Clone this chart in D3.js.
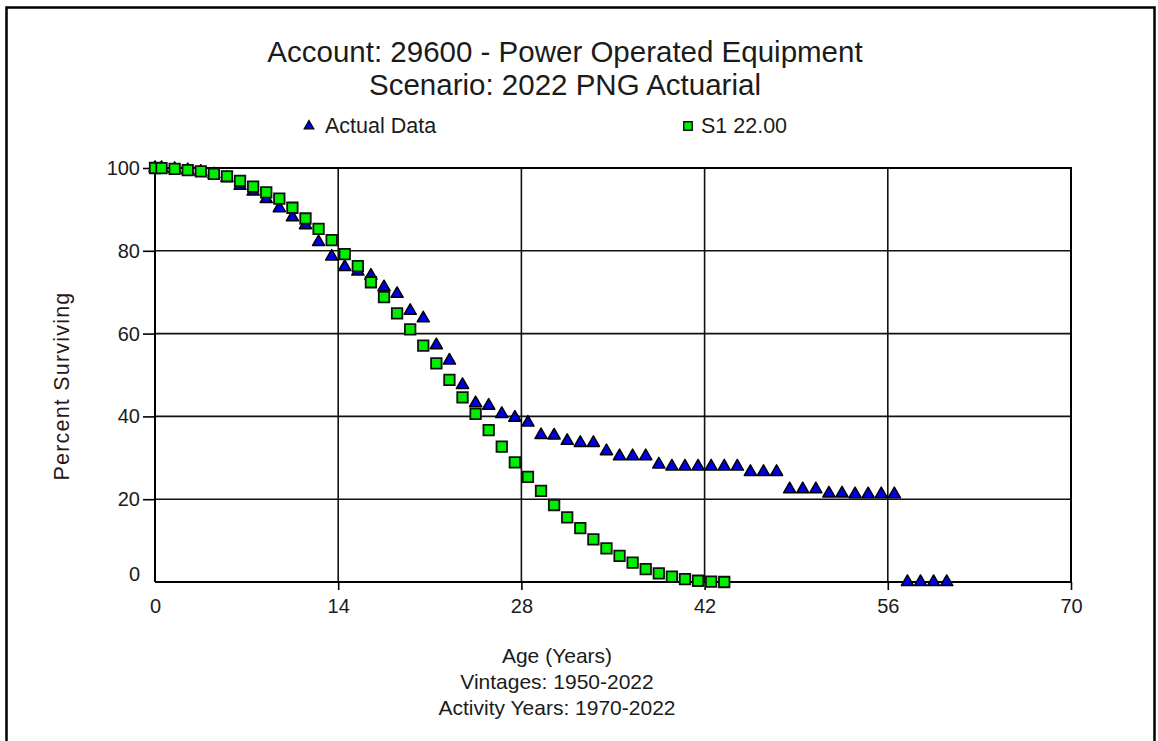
<!DOCTYPE html>
<html>
<head>
<meta charset="utf-8">
<script src="https://cdn.jsdelivr.net/npm/d3@7"></script>
<style>
  html, body { margin: 0; padding: 0; background: #fff; }
  svg { display: block; }
  svg text { font-family: "Liberation Sans", Arial, sans-serif; }
</style>
</head>
<body>
<svg id="chart" width="1158" height="741"></svg>
<script>
// Survivor curve: observed life table vs. fitted Iowa S1 curve (22-year life)
const actualAges = [0, 0.5, 1.5, 2.5, 3.5, 4.5, 5.5, 6.5, 7.5, 8.5, 9.5,
  10.5, 11.5, 12.5, 13.5, 14.5, 15.5, 16.5, 17.5, 18.5, 19.5,
  20.5, 21.5, 22.5, 23.5, 24.5, 25.5, 26.5, 27.5, 28.5, 29.5,
  30.5, 31.5, 32.5, 33.5, 34.5, 35.5, 36.5, 37.5, 38.5, 39.5,
  40.5, 41.5, 42.5, 43.5, 44.5, 45.5, 46.5, 47.5, 48.5, 49.5,
  50.5, 51.5, 52.5, 53.5, 54.5, 55.5, 56.5, 57.5, 58.5, 59.5, 60.5];
const actualPct = [100, 100, 99.8, 99.5, 99.1, 98.5, 97.6, 95.7, 94.3, 92.5, 90.3,
  88.1, 86.2, 82.1, 78.6, 76.1, 75.0, 74.0, 71.2, 69.6, 65.5,
  63.7, 57.2, 53.5, 47.6, 43.2, 42.6, 40.6, 39.7, 38.5, 35.5,
  35.4, 34.1, 33.6, 33.6, 31.6, 30.4, 30.4, 30.4, 28.4, 27.9,
  27.9, 27.9, 27.9, 27.9, 27.9, 26.6, 26.6, 26.6, 22.4, 22.4,
  22.4, 21.4, 21.4, 21.2, 21.2, 21.2, 21.2, 0, 0, 0, 0];

const curveAges = [0, 0.5, 1.5, 2.5, 3.5, 4.5, 5.5, 6.5, 7.5, 8.5, 9.5,
  10.5, 11.5, 12.5, 13.5, 14.5, 15.5, 16.5, 17.5, 18.5, 19.5,
  20.5, 21.5, 22.5, 23.5, 24.5, 25.5, 26.5, 27.5, 28.5, 29.5,
  30.5, 31.5, 32.5, 33.5, 34.5, 35.5, 36.5, 37.5, 38.5, 39.5,
  40.5, 41.5, 42.5, 43.5];
const curvePct = [100, 99.95, 99.8, 99.5, 99.2, 98.6, 98.0, 96.9, 95.5, 94.1, 92.6,
  90.4, 87.8, 85.3, 82.6, 79.2, 76.3, 72.4, 68.8, 64.9, 61.0,
  57.1, 52.8, 48.8, 44.6, 40.6, 36.7, 32.7, 28.9, 25.4, 22.0,
  18.6, 15.6, 13.0, 10.3, 8.1, 6.3, 4.7, 3.1, 2.1, 1.3,
  0.7, 0.3, 0.1, 0.0];

const xTicks = [0, 14, 28, 42, 56, 70];
const yTicks = [0, 20, 40, 60, 80, 100];

const titleLines = ["Account: 29600 - Power Operated Equipment", "Scenario: 2022 PNG Actuarial"];
const seriesNames = ["Actual Data", "S1 22.00"];
const xTitleLines = ["Age (Years)", "Vintages: 1950-2022", "Activity Years: 1970-2022"];
const yTitle = "Percent Surviving";

const FONT = "'Liberation Sans', Arial, sans-serif";
const svg = d3.select("#chart");
const ink = "#1b1b1b";
const triFill = "#0000e8";
const sqFill = "#00ee00";

const plot = { left: 155, right: 1071, top: 168, bottom: 582 };
const x = d3.scaleLinear().domain([0, 70]).range([plot.left, plot.right]);
const y = d3.scaleLinear().domain([0, 100]).range([plot.bottom, plot.top]);

// outer frame
svg.append("rect")
  .attr("x", 6.5).attr("y", 7.5).attr("width", 1148).attr("height", 760)
  .attr("fill", "none").attr("stroke", "#000").attr("stroke-width", 2.5);

// titles
svg.append("g").selectAll("text").data(titleLines).join("text")
  .attr("x", 565).attr("y", (d, i) => 62 + i * 33)
  .attr("text-anchor", "middle").attr("font-size", 29.5).attr("fill", ink)
  .text(d => d);

// grid lines
const grid = svg.append("g").attr("stroke", "#111").attr("stroke-width", 1.6);
grid.selectAll("line.h").data(yTicks.filter(v => v > 0)).join("line")
  .attr("x1", x(0)).attr("x2", x(70))
  .attr("y1", d => y(d)).attr("y2", d => y(d));
grid.selectAll("line.v").data(xTicks.filter(v => v > 0)).join("line")
  .attr("y1", y(0)).attr("y2", y(100))
  .attr("x1", d => x(d)).attr("x2", d => x(d));

// y axis
const yAxis = d3.axisLeft(y).tickValues(yTicks.filter(v => v > 0))
  .tickSize(12).tickPadding(3).tickFormat(d3.format("d"));
const gy = svg.append("g").attr("transform", `translate(${plot.left},0)`).call(yAxis)
  .attr("font-family", FONT);
gy.select(".domain").attr("stroke", "#000").attr("stroke-width", 2)
  .attr("d", `M0,${plot.top}V${plot.bottom}`);
gy.selectAll(".tick line").attr("stroke", "#000").attr("stroke-width", 1.6);
gy.selectAll(".tick text").attr("font-size", 20).attr("fill", ink);
// zero label sits apart from the tick set
svg.append("text").attr("x", plot.left - 15).attr("y", y(0) - 1)
  .attr("text-anchor", "end").attr("font-size", 20).attr("fill", ink).text(d3.format("d")(yTicks[0]));

// x axis
const xAxis = d3.axisBottom(x).tickValues(xTicks).tickSize(8).tickPadding(9)
  .tickFormat(d3.format("d"));
const gx = svg.append("g").attr("transform", `translate(0,${plot.bottom})`).call(xAxis)
  .attr("font-family", FONT);
gx.select(".domain").attr("stroke", "#000").attr("stroke-width", 2)
  .attr("d", `M${plot.left},0H${plot.right}`);
gx.selectAll(".tick line").attr("stroke", "#000").attr("stroke-width", 1.6)
  .attr("y2", d => d === 0 ? 0 : 8);
gx.selectAll(".tick text").attr("font-size", 20).attr("fill", ink);

// top and right frame of the plot
svg.append("path")
  .attr("d", `M${plot.left},${plot.top}H${plot.right}V${plot.bottom}`)
  .attr("fill", "none").attr("stroke", "#000").attr("stroke-width", 2);

// axis titles
svg.append("text")
  .attr("transform", `translate(69,386) rotate(-90)`)
  .attr("text-anchor", "middle").attr("font-size", 21.5)
  .attr("letter-spacing", 1.2).attr("fill", "#2a1616").text(yTitle);

svg.append("g").selectAll("text").data(xTitleLines).join("text")
  .attr("x", 557).attr("y", (d, i) => 663 + i * 26)
  .attr("text-anchor", "middle").attr("font-size", 21).attr("fill", ink)
  .text(d => d);

// markers
const tri = d3.symbol().type(d3.symbolTriangle).size(64);
const sq = d3.symbol().type(d3.symbolSquare).size(110);

const actual = actualAges.map((a, i) => ({ age: a, pct: actualPct[i] }));
const curve = curveAges.map((a, i) => ({ age: a, pct: curvePct[i] }));

svg.append("g").selectAll("path").data(actual).join("path")
  .attr("d", tri)
  .attr("transform", d => `translate(${x(d.age)},${y(d.pct)})`)
  .attr("fill", triFill).attr("stroke", "#000").attr("stroke-width", 1.5)
  .attr("stroke-linejoin", "round");

svg.append("g").selectAll("path").data(curve).join("path")
  .attr("d", sq)
  .attr("transform", d => `translate(${x(d.age)},${y(d.pct)})`)
  .attr("fill", sqFill).attr("stroke", "#111").attr("stroke-width", 1.8);

// legend
const legend = svg.append("g");
legend.append("path").attr("d", d3.symbol().type(d3.symbolTriangle).size(40))
  .attr("transform", "translate(309,126)")
  .attr("fill", triFill).attr("stroke", "#000").attr("stroke-width", 1.2);
legend.append("text").attr("x", 325).attr("y", 133).attr("font-size", 21.5)
  .attr("fill", ink).text(seriesNames[0]);
legend.append("path").attr("d", d3.symbol().type(d3.symbolSquare).size(72))
  .attr("transform", "translate(688,126)")
  .attr("fill", sqFill).attr("stroke", "#111").attr("stroke-width", 1.4);
legend.append("text").attr("x", 701).attr("y", 133).attr("font-size", 21.5)
  .attr("fill", ink).text(seriesNames[1]);
</script>
</body>
</html>
